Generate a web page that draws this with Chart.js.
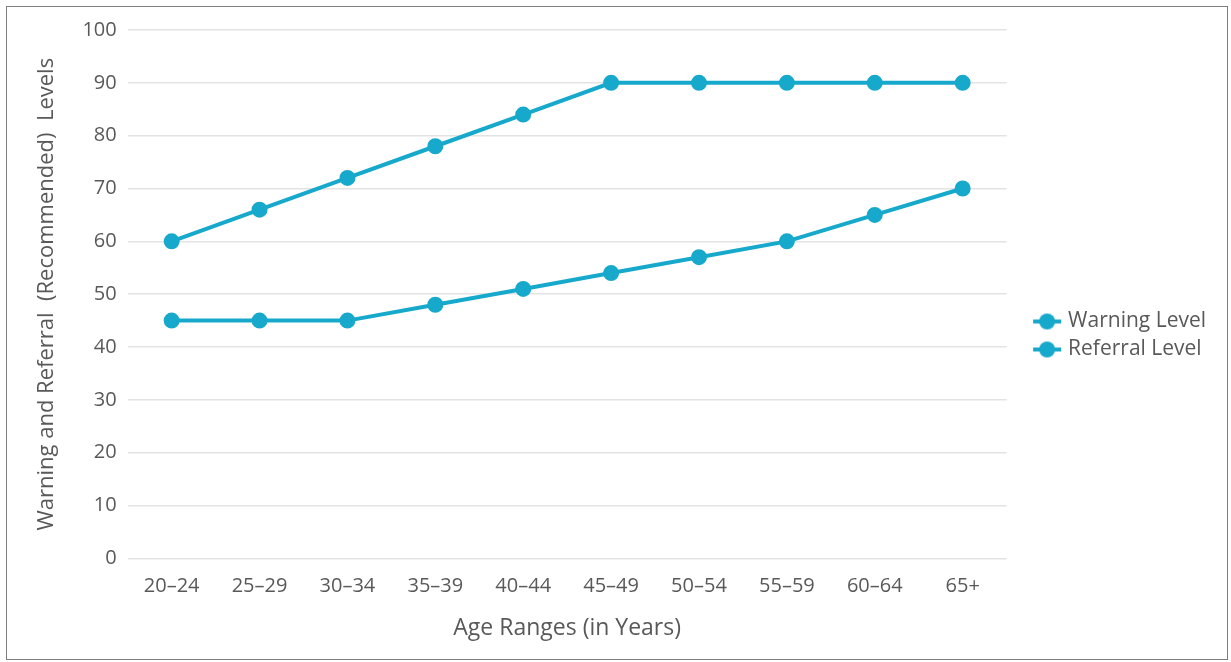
<!DOCTYPE html>
<html>
<head>
<meta charset="utf-8">
<script src="https://cdn.jsdelivr.net/npm/chart.js@4.4.0/dist/chart.umd.min.js"></script>
<style>
  body { margin: 0; background: #fff; }
  #wrap { position: absolute; left: 6px; top: 6px; width: 1220px; height: 652px; border: 1px solid #7f7f7f; }
</style>
</head>
<body>
<div id="wrap"><canvas id="myChart"></canvas></div>
<script>
// chart data
const ageRanges = ['20–24', '25–29', '30–34', '35–39', '40–44', '45–49', '50–54', '55–59', '60–64', '65+']
const warningLevel = [45, 45, 45, 48, 51, 54, 57, 60, 65, 70]
const referralLevel = [60, 66, 72, 78, 84, 90, 90, 90, 90, 90]

const lineColor = '#17a9cc'
const textColor = '#595959'
const legendGap = 23
const legendDrop = 3
Chart.defaults.font.family = "'Open Sans', 'Noto Sans', sans-serif"
Chart.defaults.color = textColor

// legend marker: short line with a dot, like the office charts
const marker = document.createElement('canvas')
marker.width = 30
marker.height = 18
const mctx = marker.getContext('2d')
mctx.strokeStyle = lineColor
mctx.lineWidth = 4
mctx.beginPath()
mctx.moveTo(1, 9)
mctx.lineTo(29, 9)
mctx.stroke()
mctx.fillStyle = lineColor
mctx.beginPath()
mctx.arc(15, 9, 8, 0, Math.PI * 2)
mctx.fill()

// leave some room between the plot and the legend
const legendSpacer = {
    id: 'legendSpacer',
    beforeInit(chart) {
        const fit = chart.legend.fit
        chart.legend.fit = function () {
            fit.bind(chart.legend)()
            this.width += legendGap
        }
    },
    afterLayout(chart) {
        chart.legend.left += legendGap
        chart.legend.top += legendDrop
    }
}

const ctx = document.getElementById('myChart')
new Chart(ctx, {
    type: 'line',
    data: {
        labels: ageRanges,
        datasets: [{
            label: 'Warning Level',
            data: warningLevel,
            borderColor: lineColor,
            backgroundColor: lineColor,
            borderWidth: 4,
            pointRadius: 6,
            pointHoverRadius: 6,
            tension: 0
        },
        {
            label: 'Referral Level',
            data: referralLevel,
            borderColor: lineColor,
            backgroundColor: lineColor,
            borderWidth: 4,
            pointRadius: 6,
            pointHoverRadius: 6,
            tension: 0
        }]
    },
    options: {
        responsive: true,
        maintainAspectRatio: false,
        animation: false,
        layout: {
            padding: { left: 23, right: 11, top: 15, bottom: 13 }
        },
        plugins: {
            tooltip: { enabled: false },
            legend: {
                position: 'right',
                labels: {
                    usePointStyle: true,
                    pointStyle: marker,
                    color: textColor,
                    font: { size: 21 },
                    padding: 7
                }
            }
        },
        scales: {
            x: {
                offset: true,
                grid: { display: false },
                border: { display: false },
                ticks: { font: { size: 20 }, padding: 8 },
                title: {
                    display: true,
                    text: 'Age Ranges (in Years)',
                    font: { size: 23 },
                    padding: { top: 8 }
                }
            },
            y: {
                min: 0,
                max: 100,
                grid: { color: '#e3e3e3', lineWidth: 1.5, drawTicks: false },
                border: { display: false },
                ticks: { stepSize: 10, font: { size: 20 }, padding: 11 },
                title: {
                    display: true,
                    text: 'Warning and Referral  (Recommended)  Levels',
                    font: { size: 22 },
                    padding: { bottom: 11 }
                }
            }
        }
    },
    plugins: [legendSpacer]
})
</script>
</body>
</html>
